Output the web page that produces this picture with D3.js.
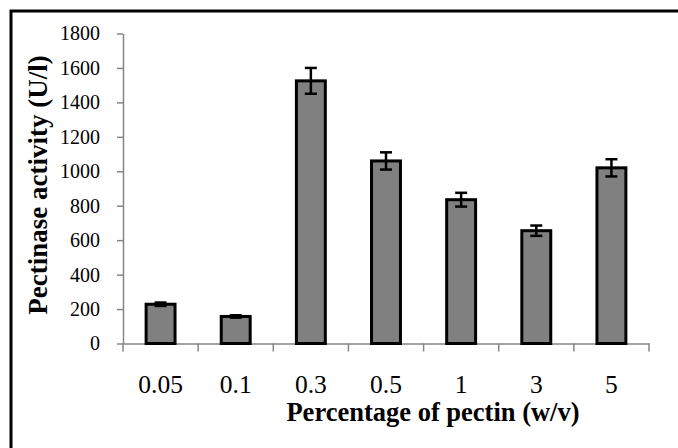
<!DOCTYPE html>
<html>
<head>
<meta charset="utf-8">
<script src="https://cdn.jsdelivr.net/npm/d3@7"></script>
<style>
  body { margin: 0; background: #fff; }
  svg { display: block; font-family: "Liberation Serif", "Times New Roman", serif; }
</style>
</head>
<body>
<svg id="chart" width="678" height="448"></svg>
<script>
// pectin concentrations and measured activity
const categories = ["0.05", "0.1", "0.3", "0.5", "1", "3", "5"];
const activity = [228, 157, 1525, 1060, 835, 655, 1020];
const errors = [10, 7, 75, 50, 40, 30, 50];
const yTicks = [0, 200, 400, 600, 800, 1000, 1200, 1400, 1600, 1800];

const svg = d3.select("#chart");
const axisColor = "#868686";
const serif = "'Liberation Serif', 'Times New Roman', serif";

const margin = {left: 123, right: 29, top: 33.5, bottom: 104.5};
const width = 678 - margin.left - margin.right,
    height = 448 - margin.top - margin.bottom;

// outer frame, runs off the right and bottom edges like the original
svg.append("rect")
    .attr("x", 11).attr("y", 11)
    .attr("width", 720).attr("height", 520)
    .attr("fill", "none")
    .attr("stroke", "#000")
    .attr("stroke-width", 3);

const g = svg.append("g")
    .attr("transform", "translate(" + margin.left + "," + margin.top + ")");

const x = d3.scaleBand().domain(categories).range([0, width]).padding(0);
const y = d3.scaleLinear().domain([0, 1800]).range([height, 0]);

const barW = x.bandwidth() * 0.385;

// y axis
const yAxis = g.append("g")
    .call(d3.axisLeft(y).tickValues(yTicks).tickFormat(d3.format("d"))
        .tickSize(6).tickPadding(17).tickSizeOuter(0))
    .attr("font-family", serif)
    .attr("font-size", 20);
yAxis.select(".domain").attr("stroke", axisColor).attr("stroke-width", 1.5);
yAxis.selectAll(".tick line").attr("stroke", axisColor).attr("stroke-width", 1.5);
yAxis.selectAll(".tick text").attr("fill", "#000");

// x axis: labels at band centres, ticks at band boundaries
const xAxis = g.append("g")
    .attr("transform", "translate(0," + height + ")")
    .call(d3.axisBottom(x).tickSize(0).tickSizeOuter(0))
    .attr("font-family", serif)
    .attr("font-size", 25.5);
xAxis.select(".domain").attr("stroke", axisColor).attr("stroke-width", 1.5);
xAxis.selectAll(".tick text")
    .attr("fill", "#000")
    .attr("y", 49.5)
    .attr("dy", 0);

const bounds = categories.map(d => x(d)).concat([width]);
xAxis.selectAll(".bound")
    .data(bounds)
    .enter().append("line")
    .attr("class", "bound")
    .attr("x1", d => d).attr("x2", d => d)
    .attr("y1", 0).attr("y2", 8)
    .attr("stroke", axisColor)
    .attr("stroke-width", 1.5);

// bars
g.selectAll(".bar")
    .data(activity)
    .enter().append("rect")
    .attr("class", "bar")
    .attr("x", (d, i) => x(categories[i]) + (x.bandwidth() - barW) / 2)
    .attr("y", d => y(d))
    .attr("width", barW)
    .attr("height", d => height - y(d))
    .attr("fill", "#808080")
    .attr("stroke", "#000")
    .attr("stroke-width", 3);

// error bars
const capW = 12;
const eb = g.selectAll(".err")
    .data(activity)
    .enter().append("g")
    .attr("class", "err")
    .attr("transform", (d, i) => "translate(" + (x(categories[i]) + x.bandwidth() / 2) + ",0)");

eb.append("line")
    .attr("x1", 0).attr("x2", 0)
    .attr("y1", (d, i) => y(d + errors[i]))
    .attr("y2", (d, i) => y(d - errors[i]))
    .attr("stroke", "#000").attr("stroke-width", 2.5);
eb.append("line")
    .attr("x1", -capW / 2).attr("x2", capW / 2)
    .attr("y1", (d, i) => y(d + errors[i]))
    .attr("y2", (d, i) => y(d + errors[i]))
    .attr("stroke", "#000").attr("stroke-width", 2.5);
eb.append("line")
    .attr("x1", -capW / 2).attr("x2", capW / 2)
    .attr("y1", (d, i) => y(d - errors[i]))
    .attr("y2", (d, i) => y(d - errors[i]))
    .attr("stroke", "#000").attr("stroke-width", 2.5);

// axis titles
svg.append("text")
    .attr("x", 433).attr("y", 421)
    .attr("text-anchor", "middle")
    .attr("font-family", serif)
    .attr("font-size", 26.5)
    .attr("font-weight", "bold")
    .text("Percentage of pectin (w/v)");

svg.append("text")
    .attr("transform", "translate(47,185) rotate(-90)")
    .attr("text-anchor", "middle")
    .attr("font-family", serif)
    .attr("font-size", 27)
    .attr("font-weight", "bold")
    .text("Pectinase activity (U/l)");
</script>
</body>
</html>
